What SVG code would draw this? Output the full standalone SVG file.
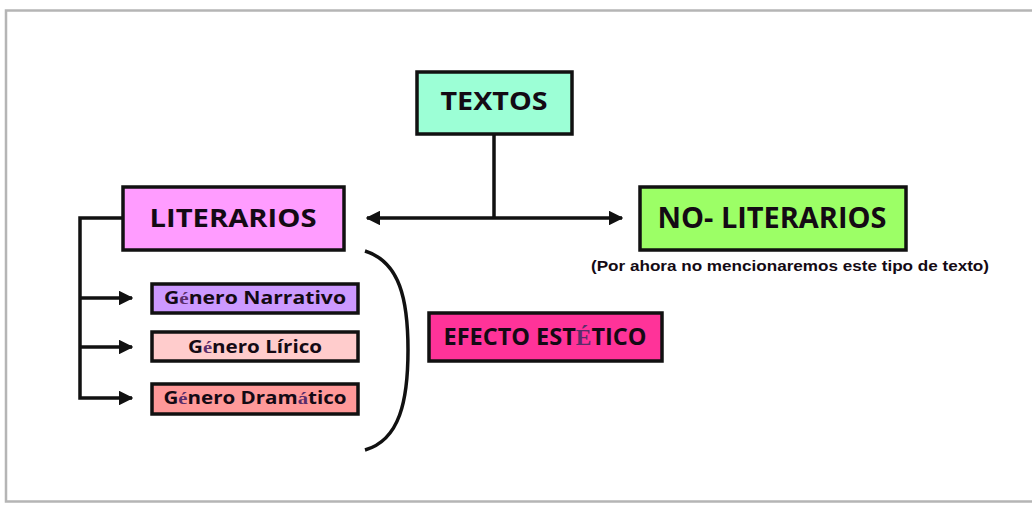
<svg xmlns="http://www.w3.org/2000/svg" width="1032" height="508" viewBox="0 0 1032 508">
<style>
.box{stroke:#111;stroke-width:3.5}
.t{font-family:"Open Sans","DejaVu Sans",sans-serif;font-weight:bold;fill:#140a14;text-anchor:middle}
.acc{fill:#5a2d6a;font-family:"Liberation Serif",serif}
.con{fill:none;stroke:#111;stroke-width:3.5}
</style>
<defs>
<marker id="ah" viewBox="0 0 10 10" refX="9" refY="5" markerWidth="4.2" markerHeight="4.2" orient="auto-start-reverse" markerUnits="strokeWidth">
<path d="M0,0 L10,5 L0,10 Z" fill="#111"/>
</marker>
</defs>
<rect x="0" y="0" width="1032" height="508" fill="#fff"/>
<rect x="6" y="10.5" width="1040" height="491" fill="#fff" stroke="#b5b5b5" stroke-width="2.5"/>
<g id="connectors">
<line class="con" x1="494" y1="135" x2="494" y2="218"/>
<line class="con" x1="494" y1="218" x2="367" y2="218" marker-end="url(#ah)"/>
<line class="con" x1="494" y1="218" x2="622" y2="218" marker-end="url(#ah)"/>
<polyline class="con" points="122,218 80,218 80,398 132,398" marker-end="url(#ah)"/>
<line class="con" x1="80" y1="298" x2="132" y2="298" marker-end="url(#ah)"/>
<line class="con" x1="80" y1="347" x2="132" y2="347" marker-end="url(#ah)"/>
<path class="con" d="M365,251 C400,262 408,300 408,350 C408,400 400,440 365,450"/>
</g>
<g id="textos">
<rect class="box" x="417" y="72" width="155" height="62" fill="#9cffd6"/>
<text class="t" x="494" y="110" font-size="25" textLength="107" lengthAdjust="spacingAndGlyphs">TEXTOS</text>
</g>
<g id="literarios">
<rect class="box" x="123" y="187" width="221" height="63" fill="#ff9cff"/>
<text class="t" x="233" y="227" font-size="25" textLength="167" lengthAdjust="spacingAndGlyphs">LITERARIOS</text>
</g>
<g id="no-literarios">
<rect class="box" x="640" y="187" width="266" height="63" fill="#9cff66"/>
<text class="t" x="772" y="228" font-size="28" textLength="229" lengthAdjust="spacingAndGlyphs">NO- LITERARIOS</text>
</g>
<g id="nota">
<text class="t" x="790" y="271" font-size="15" fill="#222" style="font-family:'Liberation Sans',sans-serif" textLength="398" lengthAdjust="spacingAndGlyphs">(Por ahora no mencionaremos este tipo de texto)</text>
</g>
<g id="narrativo">
<rect class="box" x="152" y="284" width="206" height="29" fill="#cc99ff"/>
<text class="t" x="255" y="304" font-size="17" textLength="182" lengthAdjust="spacingAndGlyphs">G<tspan class="acc">é</tspan>nero Narrativo</text>
</g>
<g id="lirico">
<rect class="box" x="152" y="332" width="206" height="29" fill="#ffcccc"/>
<text class="t" x="255" y="353" font-size="17" textLength="134" lengthAdjust="spacingAndGlyphs">G<tspan class="acc">é</tspan>nero Lírico</text>
</g>
<g id="dramatico">
<rect class="box" x="152" y="384" width="206" height="30" fill="#ff9999"/>
<text class="t" x="255" y="404" font-size="17" textLength="183" lengthAdjust="spacingAndGlyphs">G<tspan class="acc">é</tspan>nero Dram<tspan class="acc">á</tspan>tico</text>
</g>
<g id="efecto">
<rect class="box" x="429" y="313" width="233" height="48" fill="#ff3399"/>
<text class="t" x="545" y="345" font-size="23" textLength="203" lengthAdjust="spacingAndGlyphs">EFECTO EST<tspan class="acc">É</tspan>TICO</text>
</g>
</svg>
